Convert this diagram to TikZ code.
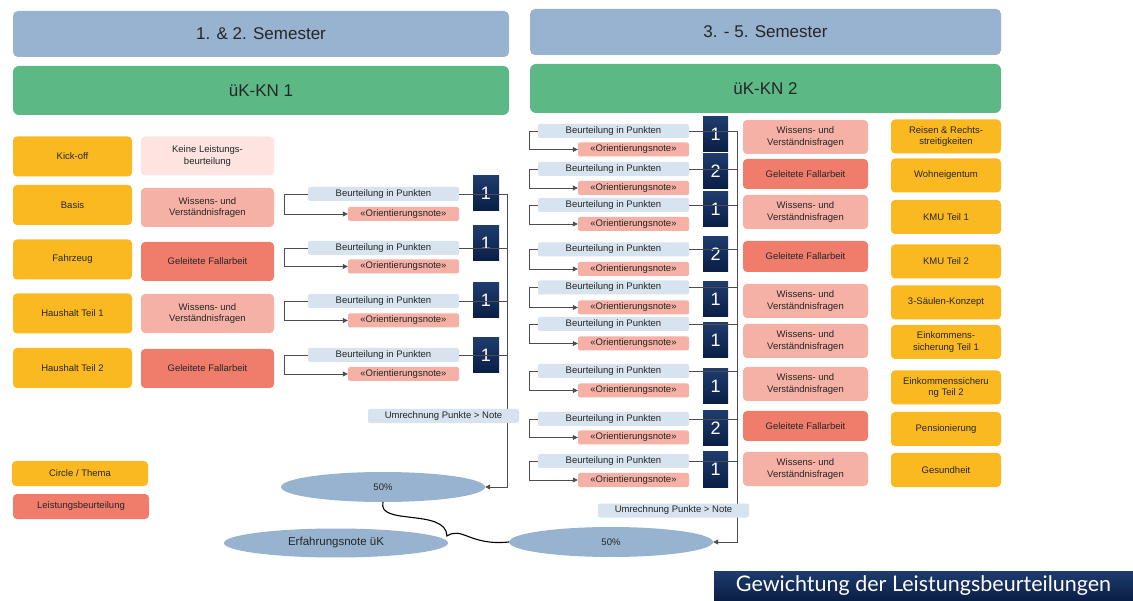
\documentclass[tikz,border=0pt]{standalone}
\usepackage{fontspec}
\setmainfont{Liberation Sans}
\newfontfamily\titlefont{Lato}
\usetikzlibrary{arrows.meta,shapes.geometric}

\definecolor{semblue}{HTML}{97B3CF}
\definecolor{kngreen}{HTML}{5CB985}
\definecolor{themaorange}{HTML}{FBB921}
\definecolor{palepink}{HTML}{FDE4E1}
\definecolor{wisspink}{HTML}{F5B1A5}
\definecolor{fallred}{HTML}{F07D6C}
\definecolor{punkteblue}{HTML}{D7E3EE}
\definecolor{navytop}{HTML}{1E3C6E}
\definecolor{navybot}{HTML}{0A1E45}
\definecolor{txtgray}{HTML}{262626}
\definecolor{linegray}{HTML}{4D4D4D}

\begin{document}
\begin{tikzpicture}[x=1pt, y=-1pt,
    every node/.style={align=center, inner sep=1pt, text=txtgray,
      font=\fontsize{9.5}{11.5}\selectfont},
    semhead/.style={fill=semblue, rounded corners=5pt, minimum height=46,
      font=\fontsize{17}{20}\selectfont},
    kn/.style={fill=kngreen, rounded corners=6pt, minimum height=49,
      font=\fontsize{17}{20}\selectfont},
    thema/.style={fill=themaorange, rounded corners=4pt, minimum width=119, minimum height=40},
    keine/.style={fill=palepink, rounded corners=4pt, minimum width=133, minimum height=39},
    wissen/.style={fill=wisspink, rounded corners=4pt, minimum width=133, minimum height=39},
    fall/.style={fill=fallred, rounded corners=4pt, minimum width=133, minimum height=39},
    punkte/.style={fill=punkteblue, rounded corners=2pt, inner sep=0pt,
      minimum width=151, minimum height=14},
    onote/.style={fill=wisspink, rounded corners=2pt, inner sep=0pt,
      minimum width=111, minimum height=14},
    gewicht/.style={top color=navytop, bottom color=navybot, text=white,
      minimum width=26, minimum height=35, font=\fontsize{18}{18}\selectfont},
    quote/.style={ellipse, fill=semblue, inner sep=0pt, minimum width=204, minimum height=30},
    link/.style={draw=linegray, line width=0.8pt},
    pointer/.style={link, -{Triangle[length=5pt,width=5pt]}}]

  \useasboundingbox (0,0) rectangle (1133,601);

  % semester and course headers
  \node[semhead, minimum width=496] (sem1) at (261,34) {1. \& 2. Semester};
  \node[semhead, minimum width=471] (sem2) at (765.5,32) {3. - 5. Semester};
  \node[kn, minimum width=496] (kn1) at (261,90.5) {üK-KN 1};
  \node[kn, minimum width=471] (kn2) at (765.5,88.5) {üK-KN 2};

  % üK-KN 1
  \node[thema] (t1) at (72.5,156.5) {Kick-off};
  \node[thema] (t2) at (72.5,205) {Basis};
  \node[thema] (t3) at (72.5,259.5) {Fahrzeug};
  \node[thema] (t4) at (72.5,313.5) {Haushalt  Teil 1};
  \node[thema] (t5) at (72.5,368) {Haushalt  Teil 2};
  \node[keine] (b1) at (207.5,156) {Keine Leistungs-\\beurteilung};
  \node[wissen] (b2) at (207.5,207.5) {Wissens- und\\Verständnisfragen};
  \node[fall] (b3) at (207.5,261.5) {Geleitete  Fallarbeit};
  \node[wissen] (b4) at (207.5,313.5) {Wissens- und\\Verständnisfragen};
  \node[fall] (b5) at (207.5,368.5) {Geleitete  Fallarbeit};

  % üK-KN 2
  \node[wissen, minimum width=125, minimum height=34] (c1) at (805.5,137) {Wissens- und\\Verständnisfragen};
  \node[fall, minimum width=125, minimum height=30] (c2) at (805.5,174) {Geleitete  Fallarbeit};
  \node[wissen, minimum width=125, minimum height=34] (c3) at (805.5,212) {Wissens- und\\Verständnisfragen};
  \node[fall, minimum width=125, minimum height=31] (c4) at (805.5,256.5) {Geleitete  Fallarbeit};
  \node[wissen, minimum width=125, minimum height=34] (c5) at (805.5,301) {Wissens- und\\Verständnisfragen};
  \node[wissen, minimum width=125, minimum height=34] (c6) at (805.5,341) {Wissens- und\\Verständnisfragen};
  \node[wissen, minimum width=125, minimum height=34] (c7) at (805.5,384) {Wissens- und\\Verständnisfragen};
  \node[fall, minimum width=125, minimum height=30] (c8) at (805.5,426) {Geleitete  Fallarbeit};
  \node[wissen, minimum width=125, minimum height=34] (c9) at (805.5,469) {Wissens- und\\Verständnisfragen};
  \node[thema, minimum width=110, minimum height=34] (u1) at (946,136.5) {Reisen \& Rechts-\\streitigkeiten};
  \node[thema, minimum width=110, minimum height=34] (u2) at (946,175.5) {Wohneigentum};
  \node[thema, minimum width=110, minimum height=34] (u3) at (946,217) {KMU  Teil 1};
  \node[thema, minimum width=110, minimum height=34] (u4) at (946,261.5) {KMU  Teil 2};
  \node[thema, minimum width=110, minimum height=34] (u5) at (946,302.5) {3-Säulen-Konzept};
  \node[thema, minimum width=110, minimum height=34] (u6) at (946,342) {Einkommens-\\sicherung Teil 1};
  \node[thema, minimum width=110, minimum height=34] (u7) at (946,387.5) {Einkommenssicheru\\ng Teil 2};
  \node[thema, minimum width=110, minimum height=34] (u8) at (946,429) {Pensionierung};
  \node[thema, minimum width=110, minimum height=34] (u9) at (946,470) {Gesundheit};

  % weights
  \node[quote] (halb1) at (383,487) {50\%};
  \node[quote] (halb2) at (611,542) {50\%};
  \node[quote, minimum width=224, minimum height=29,
    font=\fontsize{11.5}{13}\selectfont] (erf) at (336,543) {Erfahrungsnote üK};

  \coordinate (vl) at (507,194);
  \coordinate (vr) at (737,131);

  \foreach \yp/\yo/\yg/\g [count=\i] in {194/214/193.5/1, 248/266.5/243.5/1,
      301/320.5/300.5/1, 355/374/355.5/1} {
    \node[punkte] (pl\i) at (383.5,\yp) {Beurteilung  in Punkten};
    \node[onote] (ol\i) at (403.5,\yo) {«Orientierungsnote»};
    \node[gewicht] (gl\i) at (486,\yg) {\g};
    \draw[pointer] (pl\i.west) -- ++(-23,0) |- (ol\i.west);
    \draw[link] (pl\i.east) -- (pl\i.east -| vl);
  }

  \foreach \yp/\yo/\yg/\g [count=\i] in {131/149.5/134.5/1, 169/188/171/2,
      205/224/209/1, 249.5/269/254/2, 287.5/307.5/299.5/1, 324/343.5/340/1,
      371/390.5/386.5/1, 419/437.5/428.5/2, 461/480/469.5/1} {
    \node[punkte] (pr\i) at (613.5,\yp) {Beurteilung  in Punkten};
    \node[onote] (or\i) at (633.5,\yo) {«Orientierungsnote»};
    \node[gewicht, minimum width=25] (gr\i) at (715.5,\yg) {\g};
    \draw[pointer] (pr\i.west) -- ++(-8,0) |- (or\i.west);
    \draw[link] (pr\i.east) -- (pr\i.east -| vr);
  }

  \draw[pointer] (vl) |- (halb1.east);
  \draw[pointer] (vr) |- (halb2.east);
  \node[punkte] (um1) at (443.5,416) {Umrechnung  Punkte > Note};
  \node[punkte] (um2) at (673.5,510.5) {Umrechnung  Punkte > Note};

  % brace to the final grade
  \coordinate (spitze) at (447,536);
  \draw[line width=1.1pt] (halb1.south) .. controls (377,526) and (446,508) .. (spitze)
    .. controls (462,526) and (470,546) .. (halb2.west);

  % legend
  \node[thema, minimum width=136, minimum height=25] (leg1) at (80,473.5) {Circle / Thema};
  \node[fall, minimum width=136, minimum height=25] (leg2) at (81,506.5) {Leistungsbeurteilung};

  \node[top color=navytop, bottom color=navybot, text=white, minimum width=419,
    minimum height=30, font=\titlefont\fontsize{21.5}{22}\selectfont]
    (titel) at (923.5,586) {Gewichtung der Leistungsbeurteilungen};
\end{tikzpicture}
\end{document}
